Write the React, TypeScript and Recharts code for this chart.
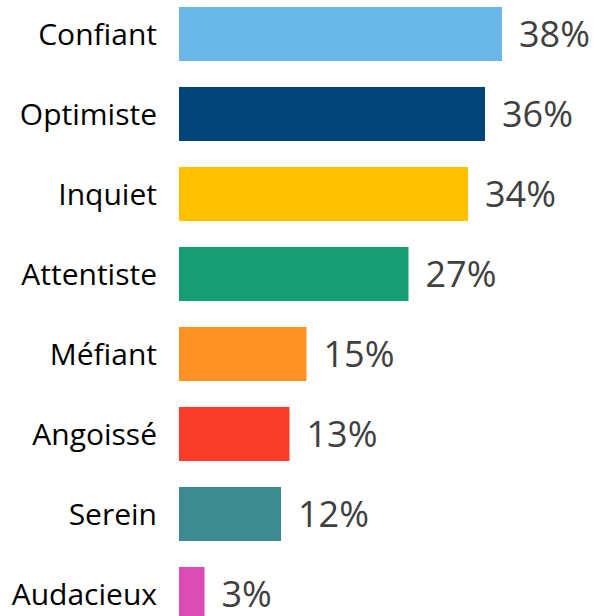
import React from 'react';
import { Bar, BarChart, Cell, LabelList, XAxis, YAxis } from 'recharts';

const categories = ['Confiant', 'Optimiste', 'Inquiet', 'Attentiste', 'Méfiant', 'Angoissé', 'Serein', 'Audacieux'];
const values = [38, 36, 34, 27, 15, 13, 12, 3];
const colors = ['#69B7E7', '#004478', '#FFC000', '#179E74', '#FF9125', '#FA3D2B', '#3D8B91', '#DD4BB5'];

const data = categories.map((name, i) => ({ name, value: values[i] }));

const App = () => {
  return (
    <div style={{ position: 'absolute', left: 0, top: 0, width: 595, height: 616, overflow: 'hidden', background: '#fff' }}>
      <BarChart
        width={595}
        height={634}
        data={data}
        layout="vertical"
        margin={{ top: -6, right: 8, bottom: 0, left: 0 }}
        barCategoryGap={0}
      >
        <XAxis type="number" hide={true} domain={[0, 48]} />
        <YAxis
          type="category"
          dataKey="name"
          width={179}
          axisLine={false}
          tickLine={false}
          tickSize={0}
          tickMargin={22}
          interval={0}
          tick={{ fill: '#000', fontSize: 30, fontFamily: 'Open Sans' }}
        />
        <Bar dataKey="value" barSize={54} isAnimationActive={false}>
          {data.map((d, i) => (
            <Cell key={d.name} fill={colors[i]} />
          ))}
          <LabelList
            dataKey="value"
            position="right"
            offset={17}
            formatter={(v: number) => `${v}%`}
            style={{ fill: '#404040', fontSize: 36, fontFamily: 'Open Sans' }}
          />
        </Bar>
      </BarChart>
    </div>
  );
};

export default App;
